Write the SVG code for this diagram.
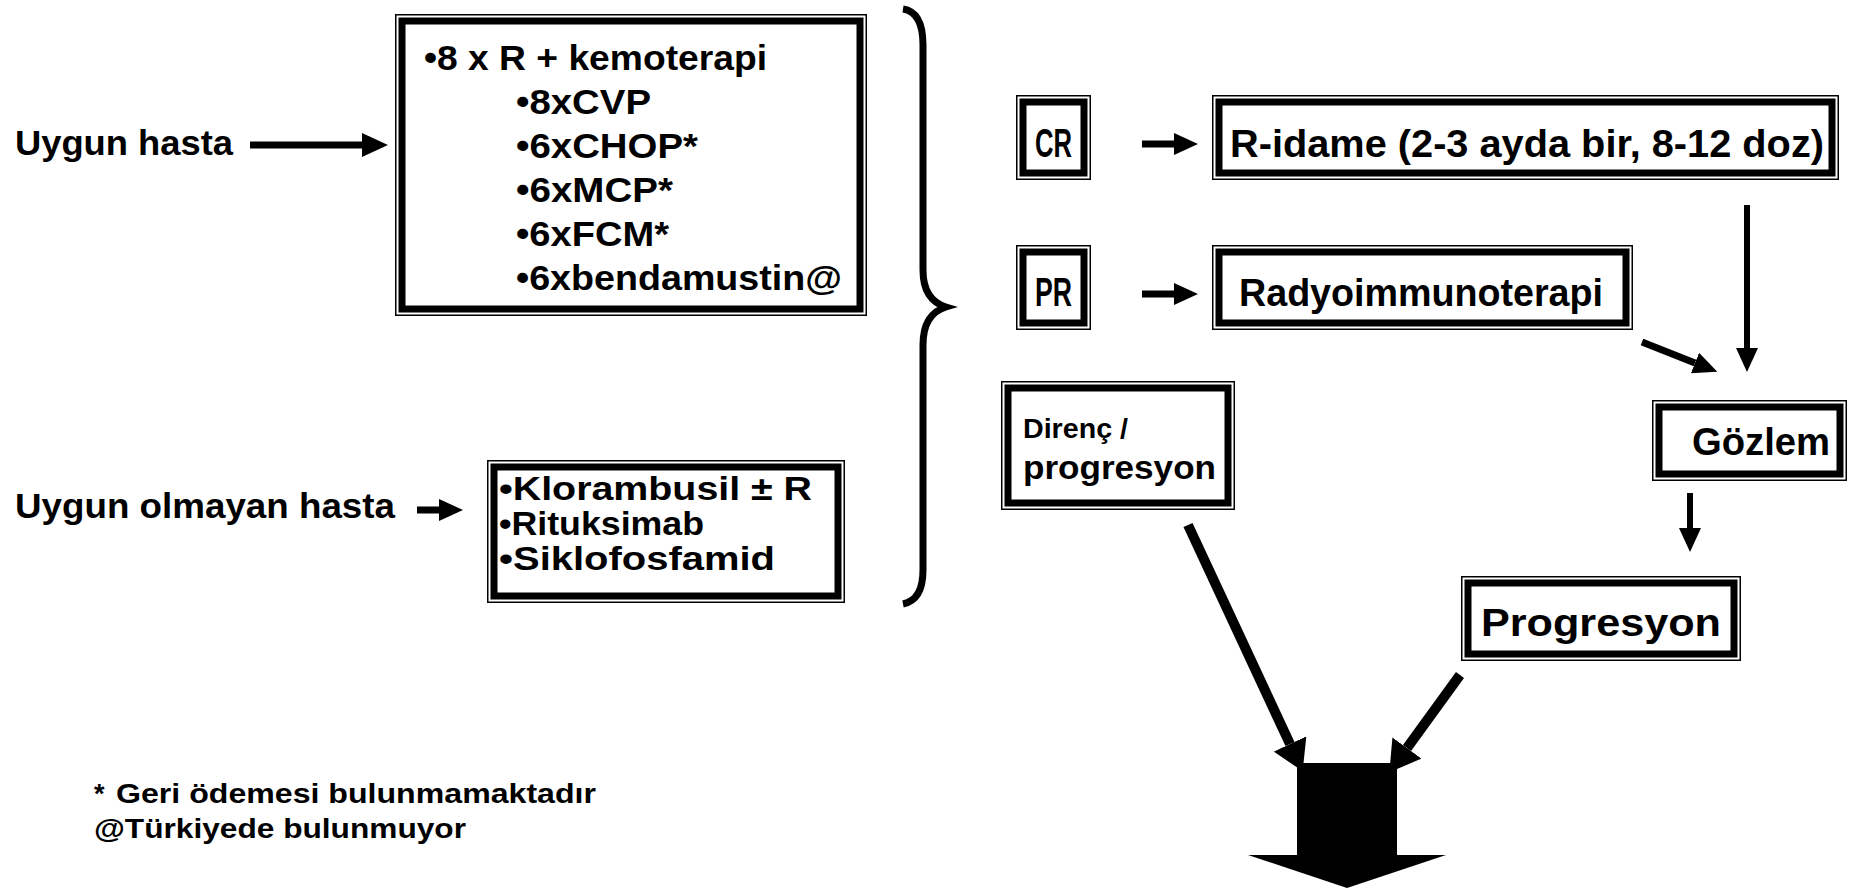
<svg xmlns="http://www.w3.org/2000/svg" width="1850" height="888" viewBox="0 0 1850 888">
<style>
.t{font-family:"Liberation Sans",Arial,sans-serif;font-weight:bold;fill:#000}
.n{font-family:"Liberation Sans Narrow","Liberation Sans",Arial,sans-serif;font-weight:bold;fill:#000}
.thin{fill:none;stroke:#000;stroke-width:1.5}
.thick{fill:none;stroke:#000;stroke-width:7}
.ln{stroke:#000;fill:none}
</style>
<defs>
<marker id="ah" markerUnits="userSpaceOnUse" markerWidth="26" markerHeight="24" refX="0" refY="12" orient="auto" viewBox="0 0 26 24"><path d="M0,0 L26,12 L0,24 Z" fill="#000"/></marker>
<marker id="ahS" markerUnits="userSpaceOnUse" markerWidth="24" markerHeight="22" refX="0" refY="11" orient="auto" viewBox="0 0 24 22"><path d="M0,0 L24,11 L0,22 Z" fill="#000"/></marker>
<marker id="ahB" markerUnits="userSpaceOnUse" markerWidth="30" markerHeight="36" refX="0" refY="18" orient="auto" viewBox="0 0 30 36"><path d="M0,0 L30,18 L0,36 Z" fill="#000"/></marker>
</defs>
<rect width="1850" height="888" fill="#fff"/>

<g id="label-uygun">
<text class="t" x="15" y="155" font-size="35" textLength="218" lengthAdjust="spacingAndGlyphs">Uygun hasta</text>
</g>
<g id="label-uygun-olmayan">
<text class="t" x="15" y="518" font-size="35" textLength="380" lengthAdjust="spacingAndGlyphs">Uygun olmayan hasta</text>
</g>

<g id="box-kemoterapi">
<rect class="thin" x="395.75" y="14.75" width="470.5" height="300.5"/>
<rect class="thick" x="402" y="21" width="458" height="288"/>
<text class="t" x="424" y="70" font-size="35" textLength="343" lengthAdjust="spacingAndGlyphs">•8 x R + kemoterapi</text>
<text class="t" x="516" y="114" font-size="35" textLength="135" lengthAdjust="spacingAndGlyphs">•8xCVP</text>
<text class="t" x="516" y="158" font-size="35" textLength="182" lengthAdjust="spacingAndGlyphs">•6xCHOP*</text>
<text class="t" x="516" y="202" font-size="35" textLength="157" lengthAdjust="spacingAndGlyphs">•6xMCP*</text>
<text class="t" x="516" y="246" font-size="35" textLength="153" lengthAdjust="spacingAndGlyphs">•6xFCM*</text>
<text class="t" x="516" y="290" font-size="35" textLength="326" lengthAdjust="spacingAndGlyphs">•6xbendamustin@</text>
</g>

<g id="box-klorambusil">
<rect class="thin" x="487.75" y="460.75" width="356.5" height="141.5"/>
<rect class="thick" x="494" y="467" width="344" height="129"/>
<text class="t" x="499" y="500" font-size="34" textLength="313" lengthAdjust="spacingAndGlyphs">•Klorambusil ± R</text>
<text class="t" x="499" y="535" font-size="34" textLength="205" lengthAdjust="spacingAndGlyphs">•Rituksimab</text>
<text class="t" x="499" y="570" font-size="34" textLength="276" lengthAdjust="spacingAndGlyphs">•Siklofosfamid</text>
</g>

<g id="brace">
<path class="ln" stroke-width="7" d="M903 9 Q923 12 923 45 L923 270 Q923 300 946 307 Q923 314 923 345 L923 570 Q923 600 903 604"/>
</g>

<g id="box-cr">
<rect class="thin" x="1016.75" y="95.75" width="73.5" height="83.5"/>
<rect class="thick" x="1023" y="102" width="61" height="71"/>
<text class="n" x="1035" y="157" font-size="40" textLength="37" lengthAdjust="spacingAndGlyphs">CR</text>
</g>
<g id="box-ridame">
<rect class="thin" x="1212.75" y="95.75" width="625.5" height="83.5"/>
<rect class="thick" x="1219" y="102" width="613" height="71"/>
<text class="n" x="1230" y="157" font-size="39" textLength="594" lengthAdjust="spacingAndGlyphs">R-idame (2-3 ayda bir, 8-12 doz)</text>
</g>
<g id="box-pr">
<rect class="thin" x="1016.75" y="245.75" width="73.5" height="83.5"/>
<rect class="thick" x="1023" y="252" width="61" height="71"/>
<text class="n" x="1035" y="306" font-size="40" textLength="37" lengthAdjust="spacingAndGlyphs">PR</text>
</g>
<g id="box-radyo">
<rect class="thin" x="1212.75" y="245.75" width="419.5" height="83.5"/>
<rect class="thick" x="1219" y="252" width="407" height="71"/>
<text class="n" x="1239" y="306" font-size="39" textLength="364" lengthAdjust="spacingAndGlyphs">Radyoimmunoterapi</text>
</g>
<g id="box-direnc">
<rect class="thin" x="1001.75" y="381.75" width="232.5" height="127.5"/>
<rect class="thick" x="1008" y="388" width="220" height="115"/>
<text class="n" x="1023" y="438" font-size="27" textLength="105" lengthAdjust="spacingAndGlyphs">Direnç /</text>
<text class="n" x="1023" y="479" font-size="34" textLength="193" lengthAdjust="spacingAndGlyphs">progresyon</text>
</g>
<g id="box-gozlem">
<rect class="thin" x="1652.75" y="400.75" width="193.5" height="79.5"/>
<rect class="thick" x="1659" y="407" width="181" height="67"/>
<text class="n" x="1692" y="455" font-size="38" textLength="138" lengthAdjust="spacingAndGlyphs">Gözlem</text>
</g>
<g id="box-progresyon">
<rect class="thin" x="1461.75" y="576.75" width="278.5" height="83.5"/>
<rect class="thick" x="1468" y="583" width="266" height="71"/>
<text class="n" x="1481" y="636" font-size="38" textLength="240" lengthAdjust="spacingAndGlyphs">Progresyon</text>
</g>

<g id="footnotes">
<text class="t" font-size="27"><tspan x="94" y="803">*</tspan><tspan x="116" y="803" textLength="480" lengthAdjust="spacingAndGlyphs">Geri ödemesi bulunmamaktadır</tspan></text>
<text class="t" x="94" y="838" font-size="27" textLength="372" lengthAdjust="spacingAndGlyphs">@Türkiyede bulunmuyor</text>
</g>

<g id="connectors">
<line class="ln" stroke-width="7" x1="250" y1="145" x2="362" y2="145" marker-end="url(#ah)"/>
<line class="ln" stroke-width="7" x1="417" y1="510" x2="439" y2="510" marker-end="url(#ahS)"/>
<line class="ln" stroke-width="7" x1="1142" y1="144" x2="1174" y2="144" marker-end="url(#ahS)"/>
<line class="ln" stroke-width="7" x1="1142" y1="294" x2="1174" y2="294" marker-end="url(#ahS)"/>
<line class="ln" stroke-width="6" x1="1747" y1="205" x2="1747" y2="348" marker-end="url(#ahS)"/>
<line class="ln" stroke-width="7" x1="1642" y1="342" x2="1695" y2="363" marker-end="url(#ahS)"/>
<line class="ln" stroke-width="6" x1="1690" y1="493" x2="1690" y2="528" marker-end="url(#ahS)"/>
<line class="ln" stroke-width="10" x1="1188" y1="525" x2="1290" y2="744" marker-end="url(#ahB)"/>
<line class="ln" stroke-width="10" x1="1460" y1="675" x2="1407" y2="748" marker-end="url(#ahB)"/>
<path d="M1297 763 L1397 763 L1397 855 L1446 855 L1347 888 L1248 855 L1297 855 Z" fill="#000"/>
</g>
</svg>
